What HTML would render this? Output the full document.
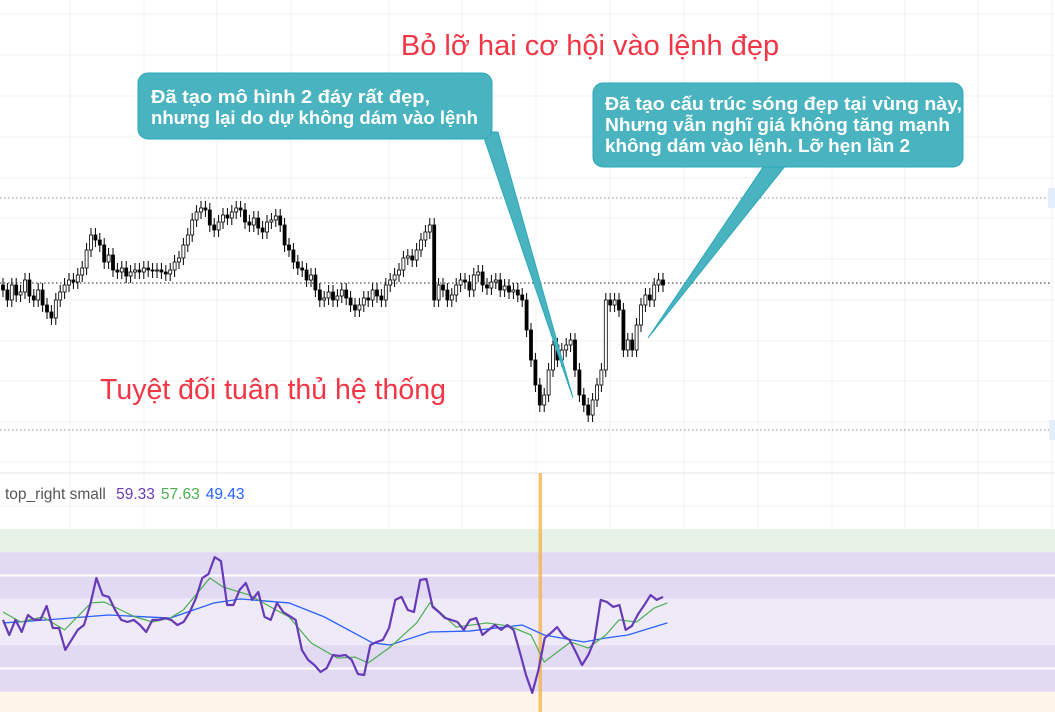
<!DOCTYPE html>
<html><head><meta charset="utf-8">
<style>
html,body{margin:0;padding:0;background:#fff;}
body{width:1055px;height:712px;overflow:hidden;position:relative;font-family:"Liberation Sans",sans-serif;}
svg{position:absolute;left:0;top:0;}
</style></head>
<body>
<svg id="chart" width="1055" height="712" viewBox="0 0 1055 712">
  <g id="grid"></g>
  <g id="bands"></g>
  <g id="candles"></g>
  <g id="rsi"></g>
  <g id="notes">
    <text x="590" y="55" text-anchor="middle" font-size="29" fill="#f23645" font-family="Liberation Sans, sans-serif">Bỏ lỡ hai cơ hội vào lệnh đẹp</text>
    <text x="100" y="399" font-size="28.5" fill="#f23645" font-family="Liberation Sans, sans-serif">Tuyệt đối tuân thủ hệ thống</text>
    <g>
      <polygon points="482,132 498,132 573,398" fill="#4ab3c0" stroke="#2aa9bb" stroke-width="1"/>
      <rect x="138" y="73" width="354" height="66" rx="10" fill="#4ab3c0" stroke="#2aa9bb"/>
      <text x="151" y="103" font-size="18.5" font-weight="bold" fill="#fff" textLength="279" lengthAdjust="spacingAndGlyphs">Đã tạo mô hình 2 đáy rất đẹp,</text>
      <text x="151" y="124" font-size="18.5" font-weight="bold" fill="#fff" textLength="327" lengthAdjust="spacingAndGlyphs">nhưng lại do dự không dám vào lệnh</text>
    </g>
    <g>
      <polygon points="768,160 790,160 648,338" fill="#4ab3c0" stroke="#2aa9bb" stroke-width="1"/>
      <rect x="593" y="83" width="370" height="84" rx="10" fill="#4ab3c0" stroke="#2aa9bb"/>
      <text x="605" y="110" font-size="18.5" font-weight="bold" fill="#fff" textLength="357" lengthAdjust="spacingAndGlyphs">Đã tạo cấu trúc sóng đẹp tại vùng này,</text>
      <text x="605" y="131" font-size="18.5" font-weight="bold" fill="#fff" textLength="345" lengthAdjust="spacingAndGlyphs">Nhưng vẫn nghĩ giá không tăng mạnh</text>
      <text x="605" y="152" font-size="18.5" font-weight="bold" fill="#fff" textLength="305" lengthAdjust="spacingAndGlyphs">không dám vào lệnh. Lỡ hẹn lần 2</text>
    </g>
    <text x="5" y="499" font-size="15.5" fill="#555" font-family="Liberation Sans, sans-serif">top_right small <tspan fill="#673ab7" dx="6">59.33</tspan><tspan fill="#4caf50" dx="6">57.63</tspan><tspan fill="#2962ff" dx="6">49.43</tspan></text>
    <rect x="1048" y="188" width="8" height="20" rx="2" fill="#e3eefc"/>
    <rect x="1049" y="420" width="8" height="20" rx="2" fill="#e3eefc"/>
  </g>
</svg>
<script>
// ---- price data (price units: higher = up) ----
const closes = [210,200,215,205,208,220,204,200,210,195,
188,182,200,208,215,220,218,225,232,250,
265,260,255,238,245,230,228,232,224,228,
230,228,232,230,229,230,228,226,230,238,
242,255,265,280,288,292,290,275,270,278,
285,282,288,292,290,278,275,282,272,268,
278,280,284,275,255,250,238,232,230,220,
225,210,200,202,208,200,204,210,202,195,
190,195,202,200,210,204,200,215,220,225,
230,242,244,240,250,260,268,275,200,215,
210,200,205,215,220,218,210,225,228,215,
212,218,220,210,214,208,210,205,200,170,
140,115,95,105,130,155,140,150,155,160,
130,105,95,85,100,115,130,200,195,200,
190,150,160,150,175,195,205,200,215,220,
215];
const priceLevels = [302, 217, 70]; // dotted horizontal levels
// ---- indicator data ----
const rsiValues = [50.9,44.4,50.9,45.7,53.0,50.9,50.9,56.9,47.4,47.4,38.0,42.3,46.6,48.7,57.3,68.9,61.6,60.8,55.2,50.9,
50,50.9,48.7,45.7,50.9,50.9,51.7,50.9,48.7,50,54.3,60.3,68.9,70.6,77.9,76.2,57.3,57.3,63.8,66.8,
59.5,62.9,52.2,50.9,58.2,54.3,52.6,50.9,38.0,33.7,31.5,28.5,30.2,35.8,35.4,35.8,33.7,27.6,27.2,40.1,
41.4,42.3,47.4,59.5,60.8,55.2,54.3,68.1,68.5,56.5,54.3,51.7,50.9,50,46.6,50.9,51.7,44.4,46.6,48.7,
46.6,48.7,46.6,37.1,27.2,19.5,29.4,43.1,45.3,47.8,44.0,42.3,37.1,31.5,35.8,42.3,59.5,58.6,56.5,57.3,
46.6,48.3,53.4,57.3,61.6,59.5,60.8];
const smaBars = [0,4,9,14,20,23,30,34,38,41,47,50,56,62,65,70,76,80,83,88,94,97,103,110,115,120,123,126,129,133,137,140,144,148,151];
const smaValues = [54.3,50,52.2,46.6,58.2,58.6,52.2,50,51.7,55.2,68.9,65.1,61.6,55.2,52.2,41.0,34.5,34.9,32.4,39.2,49.6,58.2,47.8,49.6,48.3,44.4,32.8,37.1,41.4,38.8,44.4,50.9,50,56.0,58.2];
const emaBars = [0,10,24,38,48,54,65,73,84,88,97,106,118,123,132,137,142,151];
const emaValues = [49.6,50.9,53.0,51.7,58.2,59.9,58.2,52.2,41.0,40.1,45.7,46.1,48.7,44.4,41.4,43.1,44.4,49.6];

const NS='http://www.w3.org/2000/svg';
function mk(parent,tag,attrs){const e=document.createElementNS(NS,tag);for(const k in attrs)e.setAttribute(k,attrs[k]);parent.appendChild(e);return e;}
const barStep=4.4, x0=3;
const xBar=i=>x0+i*barStep;
const yPrice=p=>500-p;
const yRsi=v=>622-(v-50)*2.325;
const rsiStep=150/(rsiValues.length-1);

// grid
const grid=document.getElementById('grid');
[70,144,217,291,389,462,536,610,684,758,832,905,978,1052].forEach(x=>{
  const l=mk(grid,'line',{x1:x,y1:0,x2:x,y2:712,stroke:'#f0f0f0','stroke-width':1});
  
  
});
[14,55,96,137,178,218,259,300,341,381,422,462,506].forEach(y=>{
  const l=mk(grid,'line',{x1:0,y1:y,x2:1055,y2:y,stroke:'#f0f0f0','stroke-width':1});
  
  
});
mk(grid,'line',{x1:0,y1:473,x2:1055,y2:473,stroke:'#e0e3eb','stroke-width':1});
priceLevels.forEach((p,i)=>{
  const l=mk(grid,'line',{x1:0,y1:yPrice(p),x2:1050,y2:yPrice(p),stroke:i==1?'#222':'#888','stroke-width':1,'stroke-dasharray':'1.5,2.5'});
  
  
});

// bands
const bands=document.getElementById('bands');
mk(bands,'rect',{x:0,y:yRsi(90),width:1055,height:yRsi(80)-yRsi(90),fill:'#e8f3e8'});
mk(bands,'rect',{x:0,y:yRsi(80),width:1055,height:yRsi(60)-yRsi(80),fill:'#e2d9f3'});
mk(bands,'rect',{x:0,y:yRsi(60),width:1055,height:yRsi(40)-yRsi(60),fill:'#efeaf8'});
mk(bands,'rect',{x:0,y:yRsi(40),width:1055,height:yRsi(20)-yRsi(40),fill:'#e2d9f3'});
mk(bands,'rect',{x:0,y:yRsi(20),width:1055,height:712-yRsi(20),fill:'#fff5e9'});
[70,30].forEach(v=>{
  const l=mk(bands,'line',{x1:0,y1:yRsi(v),x2:1055,y2:yRsi(v),stroke:'#fff','stroke-width':2});
  
  
});
const hl=mk(bands,'rect',{x:538.5,y:473,width:3.5,height:239,fill:'#f5b041',opacity:0.75});



// candles
const cg=document.getElementById('candles');
closes.forEach((c,i)=>{
  const o=i>0?closes[i-1]:c+5;
  const x=xBar(i);
  const top=yPrice(Math.max(o,c)), bot=yPrice(Math.min(o,c));
  const g=mk(cg,'g',{});
  
  
  mk(g,'line',{x1:x,y1:top-7,x2:x,y2:bot+7,stroke:'#000','stroke-width':1});
  const up=c>=o;
  mk(g,'rect',{x:x-1.5,y:top,width:3,height:Math.max(1,bot-top),fill:up?'#fff':'#000',stroke:'#000','stroke-width':0.8});
});

// rsi lines
const rg=document.getElementById('rsi');
const emaPath=mk(rg,'polyline',{fill:'none',stroke:'#2962ff','stroke-width':1.3,points:emaBars.map((b,i)=>xBar(b)+','+yRsi(emaValues[i])).join(' ')});


const smaPath=mk(rg,'polyline',{fill:'none',stroke:'#4caf50','stroke-width':1.2,points:smaBars.map((b,i)=>xBar(b)+','+yRsi(smaValues[i])).join(' ')});


const rsiPath=mk(rg,'polyline',{fill:'none',stroke:'#673ab7','stroke-width':2.2,'stroke-linejoin':'round',points:rsiValues.map((v,i)=>xBar(i*rsiStep)+','+yRsi(v)).join(' ')});


</script>
</body></html>
